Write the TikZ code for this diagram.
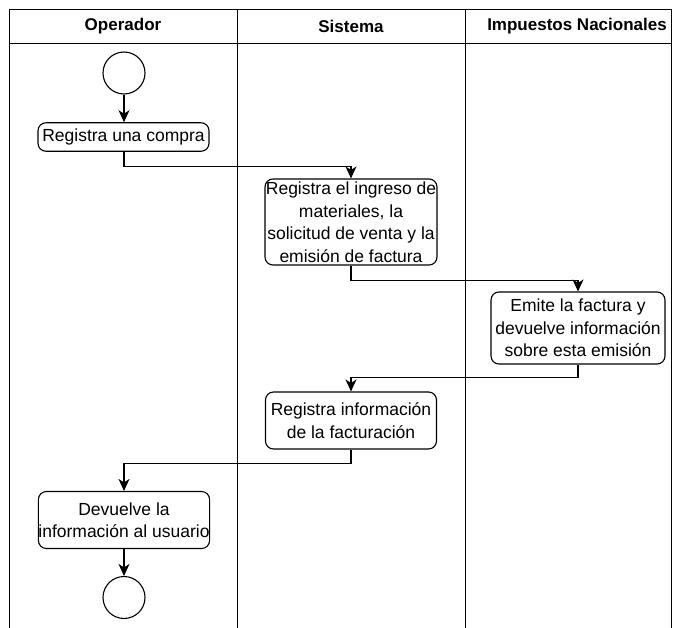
\documentclass[tikz,border=0pt]{standalone}
\usepackage{fontspec}
\setmainfont{Liberation Sans}
\usetikzlibrary{arrows.meta}
\begin{document}
\begin{tikzpicture}[x=1pt,y=-1pt,
  lane/.style={draw=black,line width=0.9pt},
  act/.style={draw=black,line width=1.1pt,rounded corners=8pt,align=center,
    font=\fontsize{17.5}{22.5}\selectfont,inner sep=0pt,fill=white},
  terminal/.style={draw=black,line width=1.1pt,circle,minimum size=42pt,inner sep=0pt},
  flow/.style={draw=black,line width=1.2pt,-{Stealth[length=12pt,width=11pt,inset=3.5pt]}},
  head/.style={font=\bfseries\fontsize{17}{20}\selectfont}]
\useasboundingbox (0,0) rectangle (679,628);
\fill[white] (0,0) rectangle (679,628);
% swimlane frame
\draw[lane] (9,628) -- (9,9) -- (671,9) -- (671,628);
\draw[lane] (9,43) -- (671,43);
\draw[lane] (237,9) -- (237,628);
\draw[lane] (465,9) -- (465,628);
\node[head] (h1) at (123,26) {Operador};
\node[head] (h2) at (351,26) {Sistema};
\node[head] (h3) at (577,26) {Impuestos Nacionales};
% activities
\node[terminal] (start) at (124,73) {};
\node[act,minimum width=171pt,minimum height=28.5pt] (a1) at (123.5,137) {Registra una compra};
\node[act,minimum width=172pt,minimum height=86pt] (a2) at (351,222)
  {Registra el ingreso de\\materiales, la\\solicitud de venta y la\\emisión de factura};
\node[act,minimum width=174pt,minimum height=72pt] (a3) at (578,328)
  {Emite la factura y\\devuelve información\\sobre esta emisión};
\node[act,minimum width=171pt,minimum height=57pt] (a4) at (351,420.5)
  {Registra información\\de la facturación};
\node[act,minimum width=170pt,minimum height=57pt] (a5) at (124,520)
  {Devuelve la\\información al usuario};
\node[terminal] (stop) at (124,597.5) {};
% connectors
\draw[flow] (start) -- (a1.north -| start);
\draw[flow] (a1.south -| start) -- ++(0,15) -| (a2.north);
\draw[flow] (a2.south) -- ++(0,15) -| (a3.north);
\draw[flow] (a3.south) -- ++(0,13) -| (a4.north);
\draw[flow] (a4.south) -- ++(0,14) -| (a5.north -| stop);
\draw[flow] (a5.south -| stop) -- (stop);
\end{tikzpicture}
\end{document}
